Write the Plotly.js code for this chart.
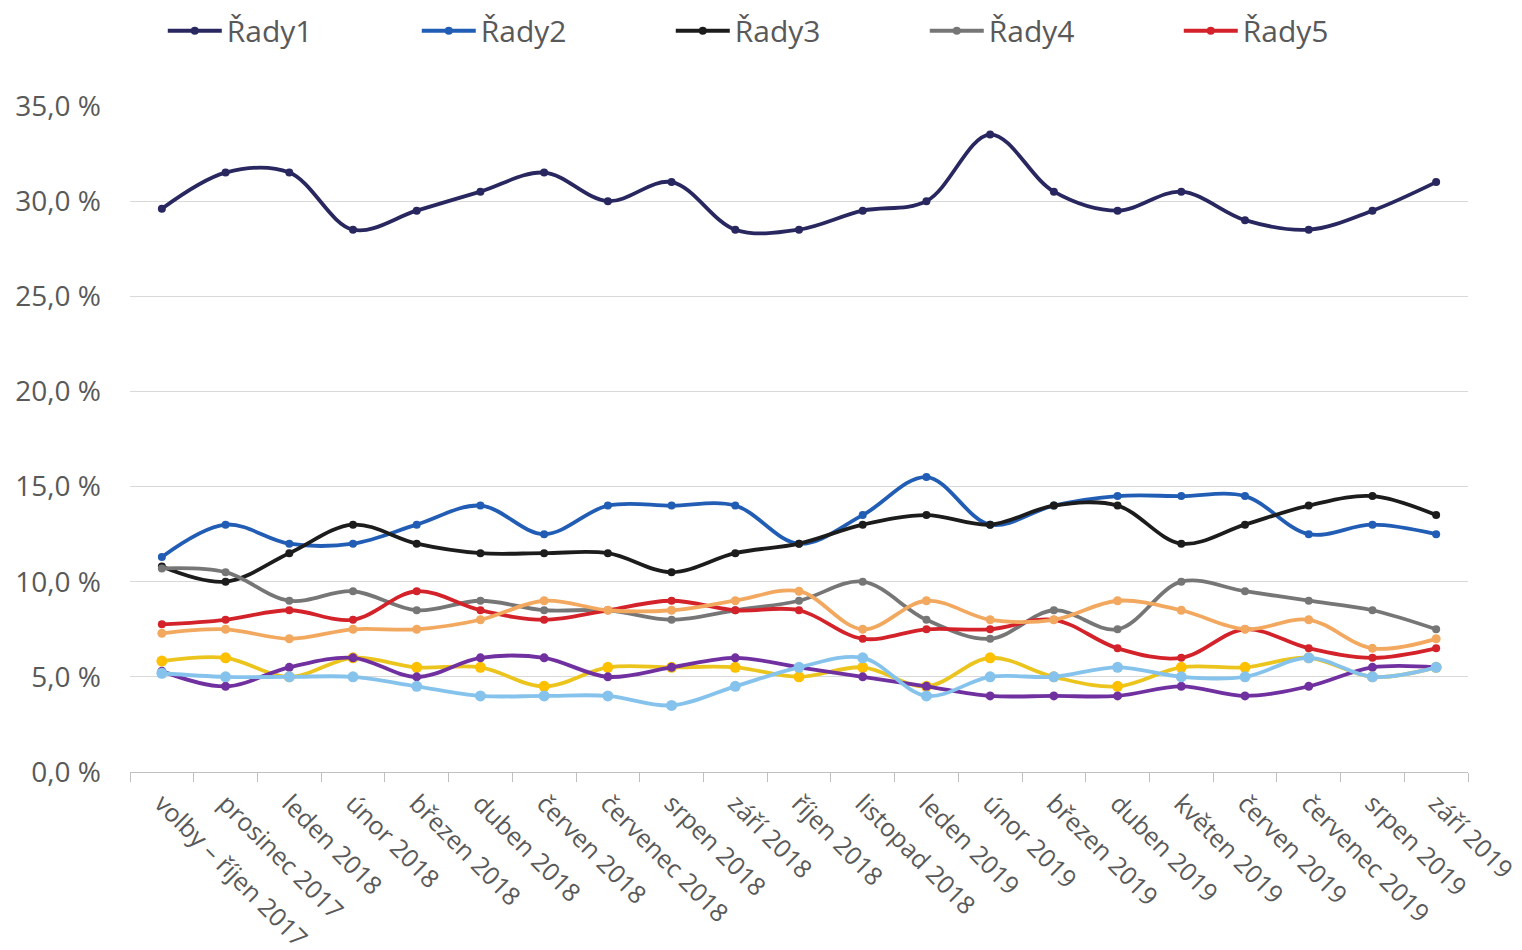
<!DOCTYPE html>
<html>
<head>
<meta charset="utf-8">
<script src="https://cdn.plot.ly/plotly-3.0.1.min.js"></script>
<style>html,body{margin:0;padding:0;background:#fff;}#chart{width:1522px;height:950px;}</style>
</head>
<body>
<div id="chart"></div>
<script>
const categories = ["volby – říjen 2017","prosinec 2017","leden 2018","únor 2018","březen 2018","duben 2018","červen 2018","červenec 2018","srpen 2018","září 2018","říjen 2018","listopad 2018","leden 2019","únor 2019","březen 2019","duben 2019","květen 2019","červen 2019","červenec 2019","srpen 2019","září 2019"];
const rady1 = [29.6,31.5,31.5,28.5,29.5,30.5,31.5,30.0,31.0,28.5,28.5,29.5,30.0,33.5,30.5,29.5,30.5,29.0,28.5,29.5,31.0];
const rady2 = [11.3,13.0,12.0,12.0,13.0,14.0,12.5,14.0,14.0,14.0,12.0,13.5,15.5,13.0,14.0,14.5,14.5,14.5,12.5,13.0,12.5];
const rady3 = [10.8,10.0,11.5,13.0,12.0,11.5,11.5,11.5,10.5,11.5,12.0,13.0,13.5,13.0,14.0,14.0,12.0,13.0,14.0,14.5,13.5];
const rady4 = [10.7,10.5,9.0,9.5,8.5,9.0,8.5,8.5,8.0,8.5,9.0,10.0,8.0,7.0,8.5,7.5,10.0,9.5,9.0,8.5,7.5];
const rady5 = [7.76,8.0,8.5,8.0,9.5,8.5,8.0,8.5,9.0,8.5,8.5,7.0,7.5,7.5,8.0,6.5,6.0,7.5,6.5,6.0,6.5];
const rady6 = [7.29,7.5,7.0,7.5,7.5,8.0,9.0,8.5,8.5,9.0,9.5,7.5,9.0,8.0,8.0,9.0,8.5,7.5,8.0,6.5,7.0];
const rady7 = [5.83,6.0,5.0,6.0,5.5,5.5,4.5,5.5,5.5,5.5,5.0,5.5,4.5,6.0,5.0,4.5,5.5,5.5,6.0,5.0,5.5];
const rady8 = [5.3,4.5,5.5,6.0,5.0,6.0,6.0,5.0,5.5,6.0,5.5,5.0,4.5,4.0,4.0,4.0,4.5,4.0,4.5,5.5,5.5];
const rady9 = [5.19,5.0,5.0,5.0,4.5,4.0,4.0,4.0,3.5,4.5,5.5,6.0,4.0,5.0,5.0,5.5,5.0,5.0,6.0,5.0,5.5];
const yTicks = [0,5,10,15,20,25,30,35];

const seriesDefs = [
  {name:"Řady1", y:rady1, color:"#29275f", ms:8, leg:true},
  {name:"Řady2", y:rady2, color:"#215db4", ms:8, leg:true},
  {name:"Řady3", y:rady3, color:"#1c1c1c", ms:8, leg:true},
  {name:"Řady4", y:rady4, color:"#767676", ms:8, leg:true},
  {name:"Řady5", y:rady5, color:"#d3222a", ms:8, leg:true},
  {name:"Řady6", y:rady6, color:"#f2a85e", ms:9, leg:false},
  {name:"Řady7", y:rady7, color:"#ebc51e", ms:11, leg:false, mc:"#ffc000"},
  {name:"Řady8", y:rady8, color:"#7030a0", ms:9, leg:false},
  {name:"Řady9", y:rady9, color:"#85c3ed", ms:11, leg:false}
];

const traces = seriesDefs.map(s => ({
  type:"scatter", mode:"lines+markers", name:s.name, x:categories, y:s.y,
  showlegend:s.leg,
  line:{color:s.color, width:3.8, shape:"spline", smoothing:1},
  marker:{color:s.mc||s.color, size:s.ms}
}));

const fontFam = "'Open Sans', 'Noto Sans', sans-serif";
const layout = {
  width:1522, height:950,
  margin:{l:130, r:54, t:106, b:178, autoexpand:false},
  paper_bgcolor:"#ffffff", plot_bgcolor:"#ffffff",
  font:{family:fontFam, color:"#595959", size:26},
  showlegend:true,
  legend:{orientation:"h", x:0.0245, xanchor:"left", y:1.113, yanchor:"middle",
          font:{size:30, color:"#595959", family:fontFam}, entrywidth:185, entrywidthmode:"pixels",
          itemwidth:54, tracegroupgap:0, bgcolor:"rgba(0,0,0,0)"},
  xaxis:{type:"category", showgrid:false, showline:true, linecolor:"#bfbfbf", linewidth:1,
         ticks:"outside", ticklen:9, tickcolor:"#bfbfbf", tickson:"boundaries",
         tickangle:45, tickfont:{size:25, color:"#595959", family:fontFam}, zeroline:false,
         ticklabelstandoff:6,
         range:[-0.5, categories.length-0.5], automargin:false},
  yaxis:{range:[0,35], tickvals:yTicks, ticktext:yTicks.map(v=>v.toFixed(1).replace('.',',')+' %'),
         showgrid:true, gridcolor:"#d9d9d9", gridwidth:1, zeroline:false, showline:false,
         tickfont:{size:28, color:"#595959", family:fontFam}, ticks:"", ticklabelstandoff:28, automargin:false}
};

Plotly.newPlot("chart", traces, layout, {displayModeBar:false, staticPlot:true});
</script>
</body>
</html>
